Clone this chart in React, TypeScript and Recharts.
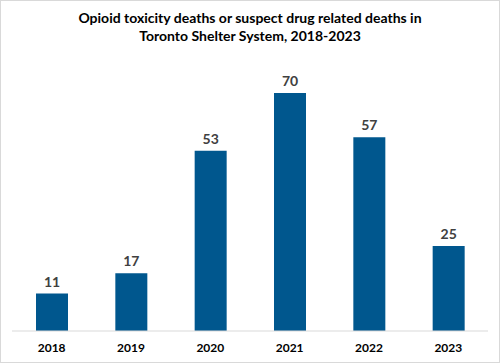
import { BarChart, Bar, XAxis, YAxis, LabelList } from "recharts";

const years = ["2018", "2019", "2020", "2021", "2022", "2023"];
const deaths = [11, 17, 53, 70, 57, 25];

const chartData = years.map((year, i) => ({ year, deaths: deaths[i] }));

const font = "Lato, 'Open Sans', sans-serif";

export default function App() {
  return (
    <div style={{ position: "relative", width: 500, height: 363, fontFamily: font }}>
      <style>{"body{margin:0}"}</style>
      <div
        style={{
          position: "absolute",
          inset: 0,
          border: "1px solid #d9d9d9",
          boxSizing: "border-box",
          background: "#fff",
        }}
      />
      <div
        style={{
          position: "absolute",
          top: 9,
          left: 0,
          width: 500,
          textAlign: "center",
          fontSize: 14,
          fontWeight: 700,
          lineHeight: "18px",
          color: "#000",
        }}
      >
        Opioid toxicity deaths or suspect drug related deaths in
        <br />
        Toronto Shelter System, 2018-2023
      </div>
      <div style={{ position: "absolute", top: 0, left: 0 }}>
        <BarChart
          width={500}
          height={363}
          data={chartData}
          margin={{ top: 59, right: 12, left: 12, bottom: 0 }}
        >
          <XAxis
            dataKey="year"
            height={32}
            tickLine={false}
            axisLine={{ stroke: "#d9d9d9" }}
            tick={{ fill: "#000", fontSize: 12, fontWeight: 700, fontFamily: font }}
            tickMargin={6}
          />
          <YAxis hide domain={[0, 80]} />
          <Bar dataKey="deaths" fill="#00578e" barSize={32} isAnimationActive={false}>
            <LabelList
              dataKey="deaths"
              position="top"
              offset={7}
              fill="#404040"
              fontSize={14}
              fontWeight={700}
              fontFamily={font}
            />
          </Bar>
        </BarChart>
      </div>
    </div>
  );
}
